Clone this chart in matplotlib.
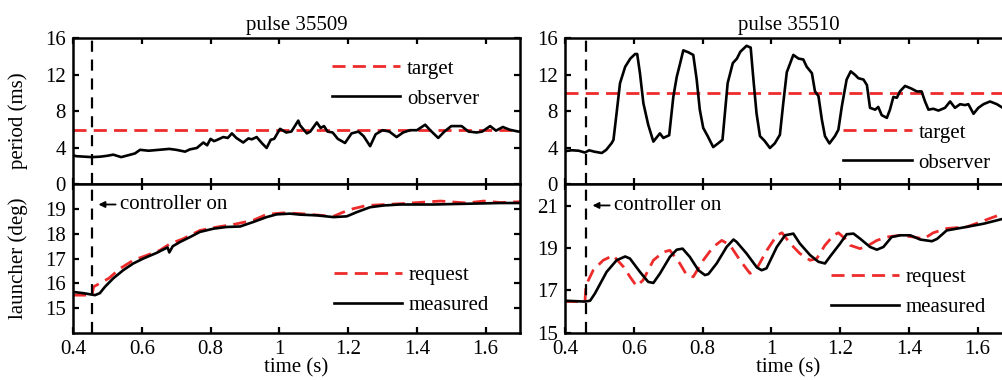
import matplotlib
import matplotlib.pyplot as plt
matplotlib.use('Agg')

plt.rcParams['font.family'] = 'serif'
plt.rcParams['font.serif'] = ['Liberation Serif', 'DejaVu Serif']
plt.rcParams['font.size'] = 15

# pulse 35509 : observer period (ms)
t_obs_a = [0.40, 0.41, 0.455, 0.48, 0.50, 0.517, 0.54, 0.56, 0.58, 0.595, 0.62, 0.65, 0.68, 0.70,
           0.726, 0.74, 0.76, 0.779, 0.79, 0.80, 0.81, 0.82, 0.837, 0.85, 0.862, 0.875, 0.895, 0.91,
           0.92, 0.934, 0.95, 0.963, 0.975, 0.985, 1.002, 1.02, 1.035, 1.055, 1.06, 1.08, 1.09, 1.109,
           1.12, 1.13, 1.14, 1.155, 1.17, 1.191, 1.21, 1.23, 1.245, 1.264, 1.28, 1.30, 1.32, 1.341,
           1.36, 1.38, 1.40, 1.424, 1.44, 1.462, 1.48, 1.50, 1.53, 1.55, 1.574, 1.59, 1.613, 1.63,
           1.65, 1.67, 1.695, 1.70]
obs_a = [3.2, 3.1, 3.0, 3.05, 3.15, 3.27, 3.0, 3.2, 3.4, 3.8, 3.7, 3.8, 3.9, 3.8,
         3.6, 3.85, 4.0, 4.6, 4.3, 5.0, 4.75, 4.9, 5.2, 5.1, 5.6, 5.1, 4.6, 5.05,
         4.95, 5.2, 4.5, 4.0, 4.9, 5.0, 6.1, 5.7, 5.8, 7.0, 6.5, 5.6, 5.8, 6.8,
         6.2, 6.4, 5.8, 5.7, 5.0, 4.55, 5.6, 5.8, 5.3, 4.2, 5.5, 5.95, 5.8, 5.2,
         5.7, 5.95, 5.95, 6.55, 5.9, 5.1, 5.8, 6.4, 6.4, 5.8, 5.7, 5.8, 6.4, 5.9,
         6.3, 6.0, 5.8, 5.8]
target_a = 6.0

# pulse 35510 : observer period (ms)
t_obs_b = [0.40, 0.42, 0.44, 0.458, 0.47, 0.485, 0.507, 0.52, 0.536, 0.541, 0.55, 0.56, 0.575, 0.59,
           0.604, 0.61, 0.618, 0.628, 0.642, 0.657, 0.676, 0.686, 0.703, 0.715, 0.725, 0.735, 0.744,
           0.758, 0.773, 0.783, 0.792, 0.802, 0.815, 0.831, 0.845, 0.858, 0.865, 0.873, 0.888, 0.90,
           0.91, 0.928, 0.94, 0.948, 0.957, 0.967, 0.98, 0.996, 1.01, 1.025, 1.035, 1.045, 1.064,
           1.079, 1.093, 1.103, 1.118, 1.127, 1.137, 1.147, 1.156, 1.169, 1.185, 1.195, 1.205, 1.219,
           1.231, 1.244, 1.253, 1.268, 1.278, 1.287, 1.302, 1.311, 1.321, 1.336, 1.345, 1.355, 1.365,
           1.374, 1.389, 1.408, 1.423, 1.437, 1.447, 1.457, 1.471, 1.486, 1.505, 1.52, 1.534, 1.549,
           1.563, 1.573, 1.588, 1.602, 1.617, 1.636, 1.656, 1.673, 1.70]
obs_b = [3.65, 3.75, 3.7, 3.5, 3.75, 3.6, 3.45, 3.8, 4.55, 4.9, 7.8, 11.1, 12.9, 13.8,
         14.3, 14.3, 12.2, 8.9, 6.55, 4.7, 5.6, 5.1, 5.4, 9.6, 11.8, 13.3, 14.7,
         14.5, 14.2, 11.5, 8.2, 6.2, 5.3, 4.1, 4.5, 4.9, 7.8, 11.1, 13.3, 13.8,
         14.55, 15.2, 15.0, 11.5, 7.8, 5.3, 4.8, 4.0, 4.5, 5.45, 9.0, 12.3, 14.2,
         13.8, 13.7, 12.9, 12.2, 10.2, 9.7, 7.1, 5.3, 4.5, 5.3, 6.0, 8.55, 11.5,
         12.4, 12.0, 11.65, 11.5, 10.9, 8.4, 8.2, 8.5, 7.6, 7.3, 8.2, 9.6, 9.5,
         10.2, 10.8, 10.5, 10.2, 10.2, 9.1, 8.2, 8.3, 8.1, 8.4, 9.1, 8.4, 8.8,
         8.7, 8.8, 7.75, 8.4, 8.8, 9.1, 8.8, 8.4, 8.3]
target_b = 10.0

# pulse 35509 : launcher angle (deg)
t_meas_a = [0.40, 0.43, 0.464, 0.478, 0.493, 0.517, 0.546, 0.575, 0.604, 0.643, 0.66, 0.675, 0.68,
            0.69, 0.711, 0.74, 0.769, 0.808, 0.847, 0.886, 0.924, 0.963, 0.992, 1.031, 1.06, 1.109,
            1.157, 1.196, 1.225, 1.264, 1.303, 1.351, 1.448, 1.545, 1.642, 1.70]
meas_a = [15.65, 15.6, 15.52, 15.6, 15.86, 16.2, 16.53, 16.8, 17.0, 17.23, 17.35, 17.45, 17.25,
          17.5, 17.67, 17.87, 18.08, 18.21, 18.28, 18.3, 18.48, 18.68, 18.79, 18.82, 18.78, 18.75,
          18.68, 18.71, 18.88, 19.08, 19.15, 19.19, 19.19, 19.22, 19.25, 19.25]
t_req_a = [0.40, 0.455, 0.46, 0.504, 0.537, 0.575, 0.614, 0.652, 0.682, 0.72, 0.769, 0.82, 0.866,
           0.924, 0.963, 1.011, 1.06, 1.157, 1.186, 1.215, 1.254, 1.351, 1.468, 1.545, 1.594, 1.642, 1.70]
req_a = [15.52, 15.52, 15.86, 16.2, 16.6, 16.93, 17.13, 17.33, 17.6, 17.8, 18.14, 18.28, 18.38,
         18.55, 18.79, 18.85, 18.82, 18.71, 18.88, 19.02, 19.15, 19.22, 19.33, 19.25, 19.33, 19.27, 19.3]

# pulse 35510 : launcher angle (deg)
t_meas_b = [0.40, 0.458, 0.473, 0.487, 0.521, 0.55, 0.575, 0.589, 0.618, 0.642, 0.657, 0.676, 0.705,
            0.725, 0.742, 0.763, 0.788, 0.807, 0.817, 0.841, 0.87, 0.89, 0.899, 0.928, 0.958, 0.972,
            0.986, 1.016, 1.04, 1.064, 1.083, 1.113, 1.137, 1.156, 1.171, 1.2, 1.219, 1.239, 1.259,
            1.287, 1.307, 1.326, 1.35, 1.375, 1.404, 1.433, 1.467, 1.482, 1.51, 1.569, 1.618, 1.674, 1.70]
meas_b = [16.51, 16.47, 16.51, 16.85, 17.87, 18.42, 18.6, 18.5, 17.87, 17.4, 17.35, 17.79, 18.58,
          18.92, 18.97, 18.58, 17.95, 17.72, 17.77, 18.27, 19.05, 19.4, 19.29, 18.74, 18.08, 17.95,
          18.04, 19.05, 19.6, 19.68, 19.21, 18.66, 18.35, 18.27, 18.6, 19.21, 19.65, 19.68, 19.43,
          19.05, 18.92, 19.05, 19.52, 19.6, 19.6, 19.4, 19.32, 19.43, 19.83, 20.0, 20.15, 20.38, 20.45]
t_req_b = [0.40, 0.458, 0.461, 0.482, 0.511, 0.54, 0.57, 0.589, 0.608, 0.627, 0.657, 0.686, 0.705,
           0.734, 0.754, 0.773, 0.802, 0.831, 0.856, 0.88, 0.909, 0.938, 0.958, 0.987, 1.016, 1.031,
           1.055, 1.083, 1.113, 1.132, 1.156, 1.181, 1.195, 1.215, 1.229, 1.258, 1.283, 1.307, 1.336,
           1.375, 1.414, 1.443, 1.471, 1.51, 1.569, 1.608, 1.646, 1.674, 1.70]
req_b = [16.47, 16.47, 17.24, 17.95, 18.42, 18.65, 18.11, 17.64, 17.2, 17.48, 18.42, 18.81, 18.89,
         18.27, 17.72, 17.64, 18.42, 19.05, 19.36, 19.13, 18.42, 17.8, 18.04, 18.89, 19.6, 19.72,
         19.21, 18.74, 18.42, 18.5, 19.13, 19.6, 19.72, 19.43, 19.13, 18.97, 19.13, 19.36, 19.52,
         19.6, 19.52, 19.43, 19.72, 19.92, 20.0, 20.23, 20.46, 20.62, 20.75]

controller_on = [0.456, 0.462]
titles = ['pulse 35509', 'pulse 35510']
xticks = [0.4, 0.6, 0.8, 1.0, 1.2, 1.4, 1.6]
xtick_labels = ['0.4', '0.6', '0.8', '1', '1.2', '1.4', '1.6']

RED = '#ee2b2b'
red_dash = (0, (4.7, 2.6))

fig = plt.figure(figsize=(10.03, 3.8), dpi=100)
ax_w = 0.4457
lefts = [0.0728, 0.5633]
top_ax = [fig.add_axes([l, 0.5145, ax_w, 0.3842]) for l in lefts]
bot_ax = [fig.add_axes([l, 0.1245, ax_w, 0.3900]) for l in lefts]


def style(ax):
    for s in ax.spines.values():
        s.set_linewidth(1.8)
    ax.tick_params(direction='in', length=4, width=1.6, top=True, right=True, pad=5)
    ax.set_xlim(0.4, 1.7)
    ax.set_xticks(xticks)


# period panels
for i, (ax, t, v, tgt) in enumerate(zip(top_ax, [t_obs_a, t_obs_b], [obs_a, obs_b], [target_a, target_b])):
    style(ax)
    ax.axhline(tgt, color=RED, lw=2, linestyle=red_dash, label='target')
    ax.plot(t, v, color='k', lw=1.9, label='observer')
    ax.axvline(controller_on[i], color='k', lw=1.6, linestyle=(0, (5, 3.5)))
    ax.set_ylim(0, 16)
    ax.set_yticks([0, 4, 8, 12, 16])
    ax.set_xticklabels([])
    ax.set_title(titles[i], fontsize=15, pad=6)

# launcher panels
for i, (ax, tm, m, tr, r) in enumerate(zip(bot_ax, [t_meas_a, t_meas_b], [meas_a, meas_b],
                                          [t_req_a, t_req_b], [req_a, req_b])):
    style(ax)
    ax.plot(tr, r, color=RED, lw=2, linestyle=red_dash, label='request')
    ax.plot(tm, m, color='k', lw=1.9, label='measured')
    ax.axvline(controller_on[i], color='k', lw=1.6, linestyle=(0, (5, 3.5)))
    ax.set_xticklabels(xtick_labels)
    ax.tick_params(axis='x', pad=5)
    ax.set_xlabel('time (s)', labelpad=0)

bot_ax[0].set_ylim(14, 20)
bot_ax[0].set_yticks([15, 16, 17, 18, 19])
bot_ax[1].set_ylim(15, 22)
bot_ax[1].set_yticks([15, 17, 19, 21])

# controller on arrows
for ax, xc, y in zip(bot_ax, controller_on, [19.19, 21.01]):
    ax.annotate('controller on', xy=(xc + 0.018, y), xytext=(xc + 0.08, y),
                va='center', ha='left', fontsize=15,
                arrowprops=dict(arrowstyle='-|>', color='k', lw=1.3, mutation_scale=9,
                                shrinkA=1, shrinkB=0))

top_ax[0].set_ylabel('period (ms)')
top_ax[0].yaxis.set_label_coords(-0.1, 0.44)
bot_ax[0].set_ylabel('launcher (deg)')
bot_ax[0].yaxis.set_label_coords(-0.1, 0.5)

leg_kw = dict(frameon=False, loc='center left', borderpad=0, borderaxespad=0,
              handlelength=3.27, handletextpad=0.33, labelspacing=0.5, fontsize=15)
top_ax[0].legend(bbox_to_anchor=(0.579, 0.69), **leg_kw)
bot_ax[0].legend(bbox_to_anchor=(0.584, 0.286), **leg_kw)
top_ax[1].legend(bbox_to_anchor=(0.623, 0.251), **leg_kw)
bot_ax[1].legend(bbox_to_anchor=(0.595, 0.272), **leg_kw)

plt.savefig('out.png', dpi=100)
plt.close()
